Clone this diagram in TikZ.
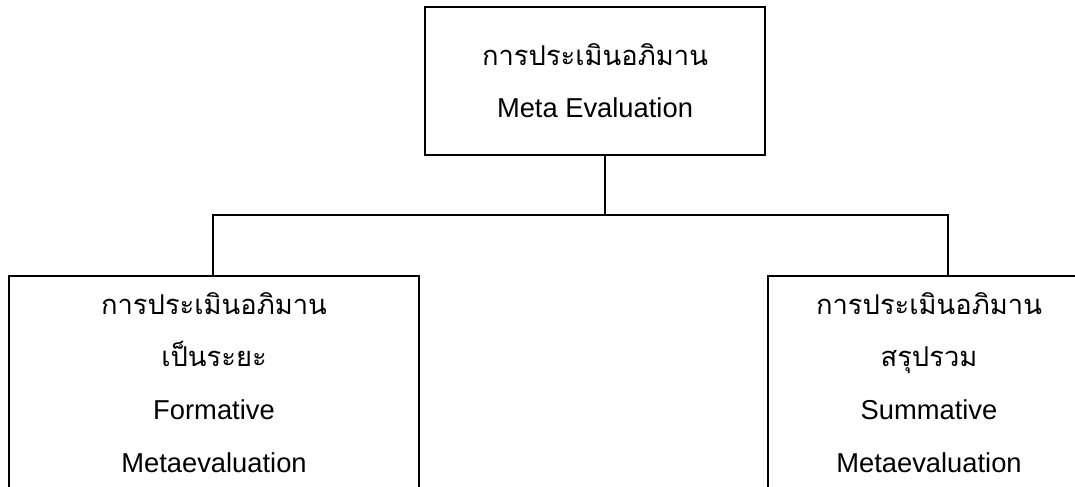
\documentclass[tikz,border=0pt]{standalone}
\usepackage{fontspec}
\setmainfont{Liberation Sans}
\newfontfamily\thaifont[Script=Thai]{Loma}

\begin{document}
\begin{tikzpicture}[x=0.75pt, y=-0.75pt, line width=1.2pt, font=\fontsize{20.5}{39.5}\selectfont]
    \tikzstyle{box_plain} = [draw=black, rectangle, inner sep=0pt, align=center, anchor=north]
    \tikzstyle{line_plain} = [draw=black, line cap=rect]

    \useasboundingbox (0,0) rectangle (1075,486);
    \clip (0,0) rectangle (1075,486);

    % boxes (px coordinates, y down)
    \node[box_plain, minimum width=255pt, minimum height=111pt] (nTop) at (595,6)
        {{\thaifont การประเมินอภิมาน}\\Meta Evaluation};
    \node[box_plain, minimum width=307.5pt, minimum height=160pt] (nLeft) at (214,275)
        {{\thaifont การประเมินอภิมาน}\\{\thaifont เป็นระยะ}\\Formative\\Metaevaluation};
    \node[box_plain, minimum width=241.5pt, minimum height=160pt] (nRight) at (929,275)
        {{\thaifont การประเมินอภิมาน}\\{\thaifont สรุปรวม}\\Summative\\Metaevaluation};

    % junctions
    \coordinate (jC) at (605,215);
    \coordinate (jL) at (213,215);
    \coordinate (jR) at (948,215);

    \draw[line_plain] (nTop.south -| jC) -- (jC);
    \draw[line_plain] (jL) -- (jR);
    \draw[line_plain] (jL) -- (jL |- nLeft.north);
    \draw[line_plain] (jR) -- (jR |- nRight.north);

\end{tikzpicture}
\end{document}
